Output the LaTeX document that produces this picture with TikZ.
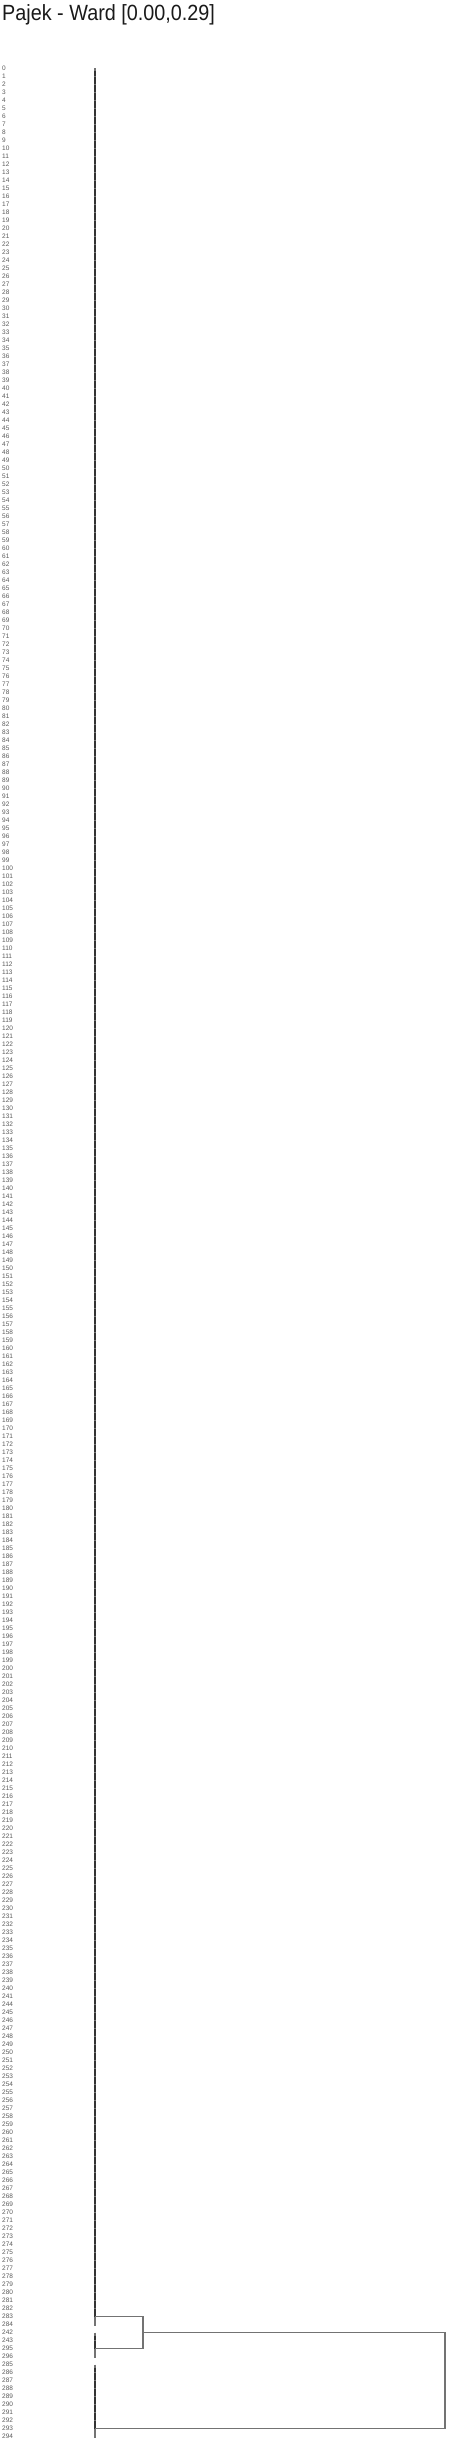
\documentclass[tikz,border=0pt]{standalone}
\usepackage{fontspec}
\setmainfont{Liberation Sans}
\usetikzlibrary{calc}
\definecolor{dgdark}{HTML}{333333}
\definecolor{dggray}{HTML}{737373}
\definecolor{dglab}{HTML}{5A5A5A}
\definecolor{dgtitle}{HTML}{1A1A1A}
\newcommand\dgrow[2]{%
  \pgfmathsetmacro\dgyy{68.5+8*#2}%
  \node[lab] (l#1) at (2,\dgyy) {#1};%
  \coordinate (r#2) at (95,\dgyy);%
}
\begin{document}
\begin{tikzpicture}[x=1pt,y=-1pt,
  lab/.style={font=\fontsize{6.5}{6.5}\selectfont, text=dglab, anchor=west, inner sep=0pt},
  leafline/.style={draw=dggray, line width=2pt},
  darkline/.style={draw=dgdark, line width=2pt},
  tickline/.style={draw=dggray, line width=0.8pt},
  branch/.style={draw=dggray, line width=1.4pt}]
\useasboundingbox (0,0) rectangle (465,2456);
\node[anchor=base west, inner sep=0pt, text=dgtitle, font=\fontsize{22}{22}\selectfont, xscale=0.9] (title) at (2,20.7) {Pajek - Ward [0.00,0.29]};
\foreach \lab in {0,...,241} { \dgrow{\lab}{\lab} }
\foreach \lab in {244,...,284} { \pgfmathtruncatemacro\dgi{\lab-2}\dgrow{\lab}{\dgi} }
\dgrow{242}{283}
\dgrow{243}{284}
\dgrow{295}{285}
\dgrow{296}{286}
\foreach \lab in {285,...,294} { \pgfmathtruncatemacro\dgi{\lab+2}\dgrow{\lab}{\dgi} }
% cluster A: rows 0..282
\draw[leafline] (r0) -- ($(r282)+(0,1)$);
\draw[darkline] ($(r0)+(0,3)$) -- (r281);
\foreach \k in {1,...,280} \draw[tickline] ($(r\k)+(-1,0)$) -- ($(r\k)+(1,0)$);
% cluster B: rows 283..286
\draw[leafline] (r283) -- ($(r286)+(0,1)$);
\draw[darkline] ($(r283)+(0,3)$) -- (r285);
\draw[tickline] ($(r284)+(-1,0)$) -- ($(r284)+(1,0)$);
% cluster C: rows 287..296
\draw[leafline] (r287) -- ($(r296)+(0,1)$);
\draw[darkline] ($(r287)+(0,3)$) -- (r295);
\foreach \k in {288,...,294} \draw[tickline] ($(r\k)+(-1,0)$) -- ($(r\k)+(1,0)$);
% branches
\coordinate (nAB) at ($(r283)+(48,0)$);
\coordinate (nRoot) at ($(r283)+(350,0)$);
\draw[branch] (r281) -| (nAB) |- (r285);
\draw[branch] (nAB) -- (nRoot) |- (r295);
\end{tikzpicture}
\end{document}
